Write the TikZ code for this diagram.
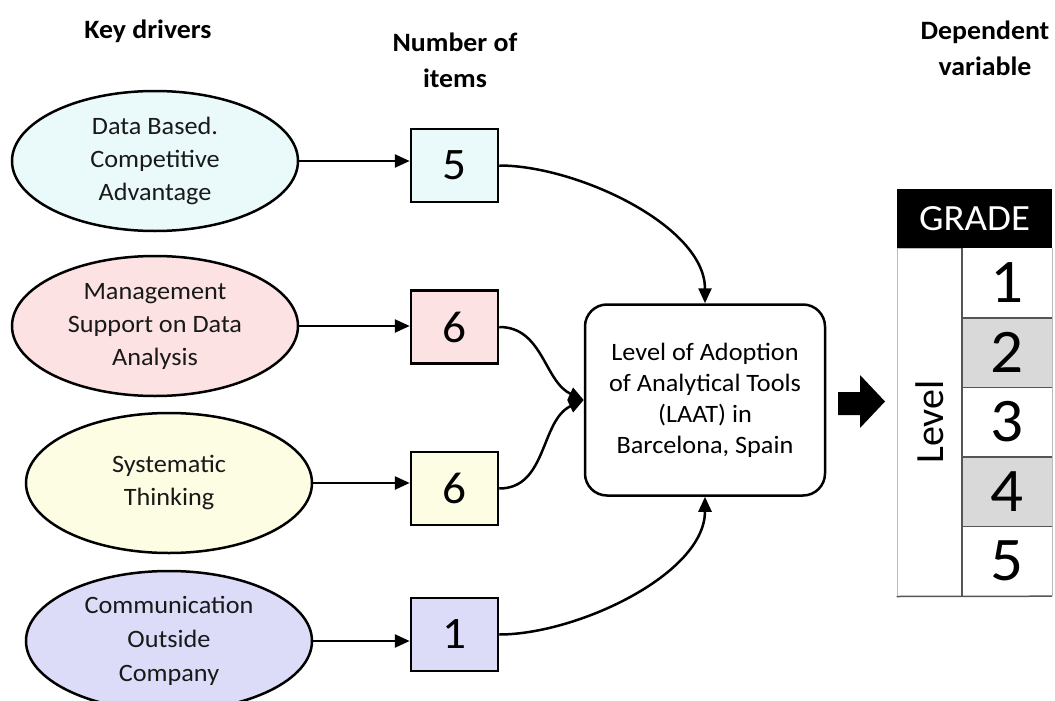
\documentclass[tikz,border=0pt]{standalone}
\usepackage{fontspec}
\setmainfont[FakeStretch=1.05]{Carlito}
\newfontfamily\uprightfont{Carlito}
\usetikzlibrary{shapes.geometric,arrows.meta}

\definecolor{cyanfill}{HTML}{EAFAFB}
\definecolor{pinkfill}{HTML}{FCE2E2}
\definecolor{yellowfill}{HTML}{FDFDE4}
\definecolor{lavfill}{HTML}{DCDCF9}
\definecolor{rowgray}{HTML}{D9D9D9}
\definecolor{gridgray}{HTML}{BBBBBB}
\definecolor{sepgray}{HTML}{555555}

\tikzset{
  header/.style={font=\fontsize{26.5}{36}\selectfont\bfseries, align=center},
  driver/.style={ellipse, draw=black, line width=2.5pt, minimum width=286pt,
    minimum height=140pt, inner sep=0pt, align=center,
    font=\fontsize{25}{33}\selectfont, text=black!90},
  itembox/.style={rectangle, draw=black, line width=2.5pt, minimum width=87pt,
    minimum height=73pt, inner sep=0pt, font=\fontsize{45}{47}\selectfont},
  arr/.style={line width=2.5pt, -{Triangle[length=15pt,width=13pt]}},
  cell/.style={rectangle, inner sep=0pt, minimum width=90pt, minimum height=69.6pt,
    font=\fontsize{62}{64}\selectfont}
}

\begin{document}
\begin{tikzpicture}[x=1pt,y=-1pt]
\useasboundingbox (0,0) rectangle (1055,701);

% column headings
\node[header] (hkey) at (148,31) {Key drivers};
\node[header] (hnum) at (455,60) {Number of\\items};
\node[header] (hdep) at (985,48) {Dependent\\variable};

% key drivers
\node[driver, fill=cyanfill] (e1) at (155,161) {Data Based.\\Competitive\\Advantage};
\node[driver, fill=pinkfill] (e2) at (155,326) {Management\\Support on Data\\Analysis};
\node[driver, fill=yellowfill] (e3) at (169,483) {Systematic\\Thinking};
\node[driver, fill=lavfill, font=\fontsize{25}{34}\selectfont] (e4) at (169,641) {Communication\\Outside\\Company};

% number of items
\node[itembox, fill=cyanfill] (b1) at (454.5,165.5) {5};
\node[itembox, fill=pinkfill] (b2) at (454.5,327) {6};
\node[itembox, fill=yellowfill] (b3) at (454.5,488.5) {6};
\node[itembox, fill=lavfill] (b4) at (454.5,634.5) {1};

% dependent construct
\node[rectangle, rounded corners=22pt, draw=black, line width=2.5pt,
  minimum width=240pt, minimum height=191pt, align=center,
  font=\fontsize{25}{31}\selectfont] (laat) at (705,400)
  {Level of Adoption\\of Analytical Tools\\(LAAT) in\\Barcelona, Spain};

% driver -> item count
\foreach \i in {1,...,4}
  \draw[arr] (e\i.east) -- (e\i.east -| b\i.west);

% item count -> LAAT
\draw[arr] (b1.east) to[out=0,in=90,looseness=0.8] (laat.north);
\draw[arr] (b2.east) to[out=0,in=155] (laat.west);
\draw[arr] (b3.east) to[out=0,in=205] (laat.west);
\draw[arr] (b4.east) to[out=0,in=-90,looseness=0.8] (laat.south);

% block arrow
\fill[black] (838,392) -- (860,392) -- (860,375) -- (885,401.5)
  -- (860,428) -- (860,415) -- (838,415) -- cycle;

% grade table
\node[rectangle, fill=black, minimum width=155pt, minimum height=59pt,
  inner sep=0pt, text=white, font=\fontsize{37}{39}\selectfont] (grade)
  at (974.5,218.5) {GRADE};
\node[rectangle, draw=gridgray, line width=1pt, minimum width=65pt,
  minimum height=348pt, inner sep=0pt] (levcol) at (929.5,422) {};
\node[rotate=90, font=\uprightfont\fontsize{40}{42}\selectfont] (levtxt)
  at (levcol.center) {Level};
\node[cell] (r1) at (1007,282.8) {1};
\node[cell, fill=rowgray] (r2) at (1007,352.4) {2};
\node[cell] (r3) at (1007,422) {3};
\node[cell, fill=rowgray] (r4) at (1007,491.6) {4};
\node[cell] (r5) at (1007,561.2) {5};
\draw[gridgray, line width=1pt] (r1.north east) -- (r5.south east);
\draw[sepgray, line width=1.5pt] (r1.north west) -- (r5.south west);
\foreach \a/\b in {r1/r2,r2/r3,r3/r4,r4/r5}
  \draw[sepgray, line width=1.5pt] (\a.south west) -- (\a.south east);
\draw[sepgray, line width=1.5pt] (levcol.south west) -- (r5.south east);
\end{tikzpicture}
\end{document}
